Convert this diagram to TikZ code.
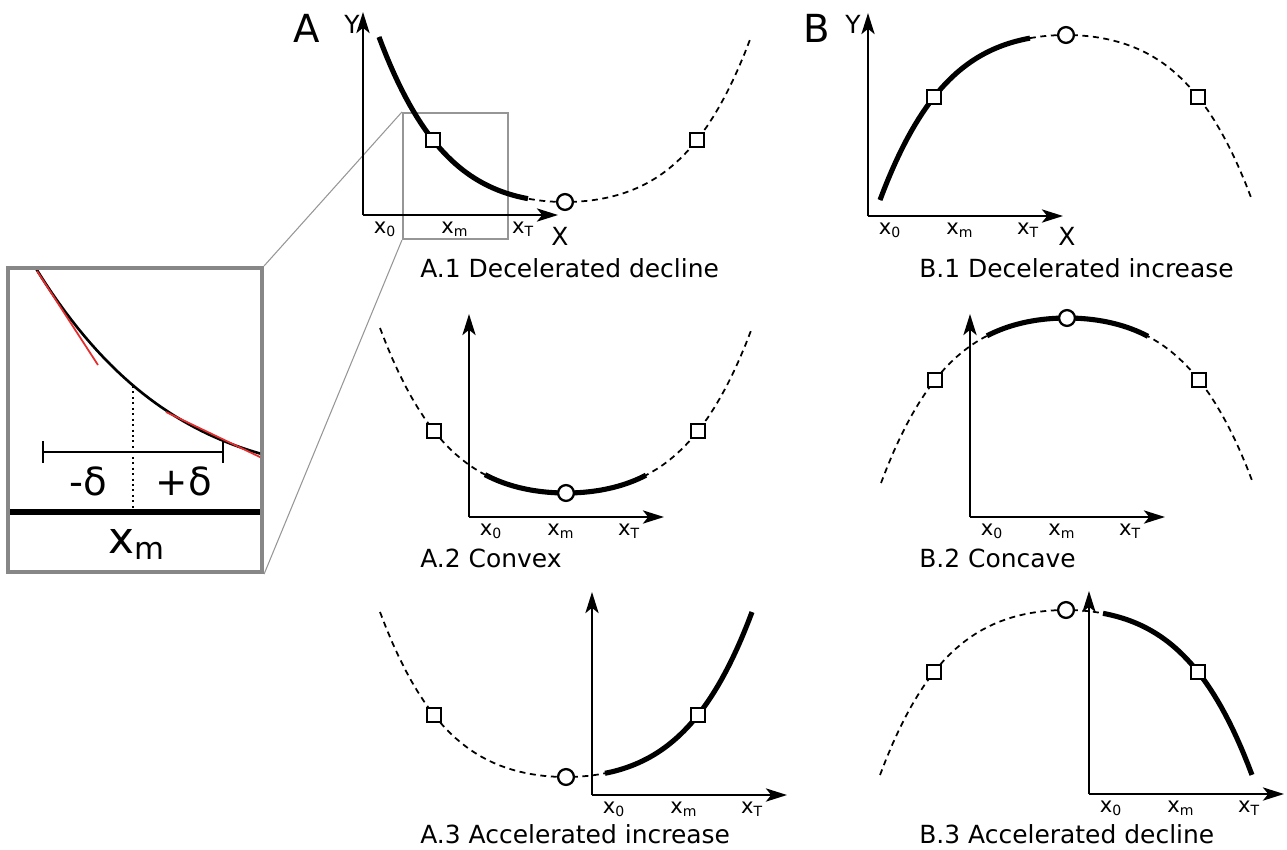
\documentclass[tikz,border=0pt]{standalone}
\usepackage{fontspec}
\setmainfont{DejaVu Sans}
\usepackage{tikz}
\usetikzlibrary{arrows.meta,calc}
\usepackage{xcolor}
\definecolor{zoomgray}{RGB}{150,150,150}
\definecolor{framegray}{RGB}{135,135,135}
\definecolor{slopered}{RGB}{230,45,45}

\tikzset{
  axis/.style={line width=1.4pt,-{Stealth[length=12pt,width=7.5pt,inset=3pt]}},
  trend/.style={line width=2.9pt},
  extrap/.style={line width=1pt,dash pattern=on 3.4pt off 2.6pt},
  optmark/.style={circle,draw,fill=white,line width=1.3pt,inner sep=0pt,minimum size=9pt},
  endmark/.style={rectangle,draw,fill=white,line width=1.3pt,inner sep=0pt,minimum size=8pt},
  tick/.style={anchor=base,inner sep=0pt,font=\fontsize{12}{14}\selectfont},
  axlab/.style={anchor=base,inner sep=0pt,font=\fontsize{14.2}{17}\selectfont},
  caption/.style={anchor=base west,inner sep=0pt,font=\fontsize{14.2}{17}\selectfont},
  panel/.style={anchor=base,inner sep=0pt,font=\fontsize{22}{26}\selectfont},
  zoombox/.style={draw=zoomgray,line width=1.2pt,inner sep=0pt,minimum width=2.1cm,minimum height=2.52cm},
  insetbox/.style={draw=framegray,line width=2.4pt,inner sep=0pt,minimum width=5.08cm,minimum height=6.08cm},
  zoomline/.style={zoomgray,line width=0.6pt},
  slope/.style={slopered,line width=1pt},
  bigtext/.style={inner sep=0pt,font=\fontsize{22}{26}\selectfont},
}

\begin{document}
\begin{tikzpicture}[x=0.02cm,y=-0.02cm,
    declare function={dev(\t)=23.3*\t*\t+7.05*\t*\t*\t*\t;}]
  \useasboundingbox (0,0) rectangle (1287,849);

  % zoom window of A.1 and its enlargement
  \node[zoombox] (zoom) at (455.5,176) {};
  \node[insetbox] (inset) at (135,420) {};
  \draw[zoomline] (zoom.north west) -- (inset.north east);
  \draw[zoomline] (zoom.south west) -- (inset.south east);

  % six panels: name / vertex / sign / solid part / origin
  \foreach \p/\vx/\vy/\s/\ua/\ub/\ox/\oy in {a1/565/202/1/-1.86/-0.37/363/215,
      a2/566/493/1/-0.81/0.80/469/517,
      a3/566/777/1/0.39/1.86/592/795,
      b1/1066/35/-1/-1.86/-0.36/868/216,
      b2/1067/318/-1/-0.80/0.81/970/517,
      b3/1066/610/-1/0.37/1.86/1089/794} {
    \coordinate (\p-o) at (\ox,\oy);
    \draw[axis] (\p-o) -- ++(0,-203);
    \draw[axis] (\p-o) -- ++(195,0);
    \draw[extrap] plot[domain=-1.86:1.86,samples=60,variable=\u]
      ({\vx+100*\u},{\vy-(\s)*dev(\u)});
    \draw[trend] plot[domain=\ua:\ub,samples=40,variable=\u]
      ({\vx+100*\u},{\vy-(\s)*dev(\u)});
    \node[endmark] (\p-lo) at ({\vx-132},{\vy-(\s)*62}) {};
    \node[endmark] (\p-hi) at ({\vx+132},{\vy-(\s)*62}) {};
    \node[optmark] (\p-opt) at (\vx,\vy) {};
    \node[tick] (\p-x0) at ({\ox+22},{\oy+18}) {x\textsubscript{0}};
    \node[tick] (\p-xm) at ({\ox+92},{\oy+18}) {x\textsubscript{m}};
    \node[tick] (\p-xt) at ({\ox+160},{\oy+18}) {x\textsubscript{T}};
  }

  \node[panel] (lblA) at (307,42) {A};
  \node[panel] (lblB) at (817,42) {B};
  \node[axlab] (a1-y) at (352,33) {Y};
  \node[axlab] (a1-x) at (560,245) {X};
  \node[axlab] (b1-y) at (853,33) {Y};
  \node[axlab] (b1-x) at (1067,245) {X};

  \node[caption] (a1-cap) at (420,277) {A.1 Decelerated decline};
  \node[caption] (a2-cap) at (420,567) {A.2 Convex};
  \node[caption] (a3-cap) at (420,843) {A.3 Accelerated increase};
  \node[caption] (b1-cap) at (919,277) {B.1 Decelerated increase};
  \node[caption] (b2-cap) at (919,567) {B.2 Concave};
  \node[caption] (b3-cap) at (919,843) {B.3 Accelerated decline};

  % inside the enlargement
  \begin{scope}
    \clip (10,270) rectangle (260,570);
    \draw[line width=1.5pt] plot[domain=-1.6:-0.55,samples=40,variable=\u]
      ({400+242*\u},{482.5-2.41*dev(\u)-9*(\u+1.5)});
    \draw[slope] (37,271) -- (98,365);
    \draw[slope] (166,412) -- (262,458);
  \end{scope}
  \coordinate (mtop) at (133,386);
  \coordinate (mbot) at (133,510);
  \draw[dotted,line width=1.1pt] (mtop) -- (mbot);
  \coordinate (dl) at (42,452);
  \coordinate (dr) at (224,452);
  \draw[line width=1.1pt,{Bar[width=12.5pt]}-{Bar[width=12.5pt]}] (dl) -- (dr);
  \draw[line width=3pt] (10,512) -- (260,512);
  \node[bigtext] (dminus) at (88,481) {-δ};
  \node[bigtext] (dplus) at (184,481) {+δ};
  \node[bigtext,anchor=base,font=\fontsize{25}{30}\selectfont] (insetxm) at (137,553) {x\textsubscript{m}};
\end{tikzpicture}
\end{document}
